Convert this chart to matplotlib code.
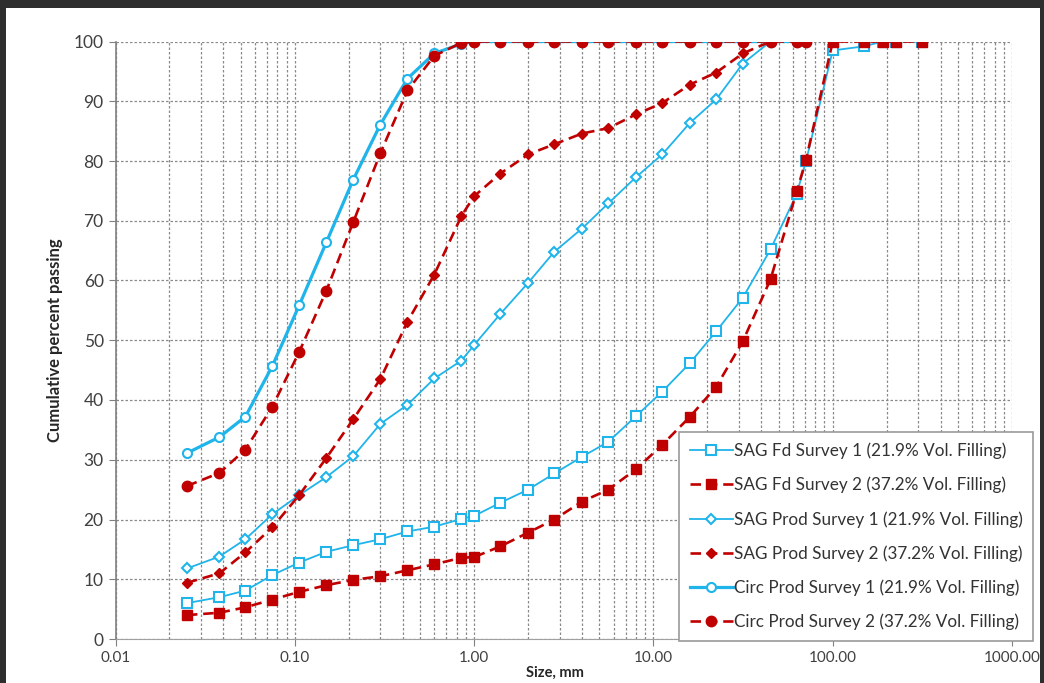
import matplotlib
matplotlib.use("Agg")
import matplotlib.pyplot as plt
from matplotlib.patches import Rectangle
from matplotlib.ticker import FixedLocator, FixedFormatter, LogLocator, NullFormatter

# sieve sizes, mm
sizes_fd = [0.025, 0.038, 0.053, 0.075, 0.106, 0.15, 0.212, 0.3, 0.425, 0.6, 0.85, 1.0,
            1.4, 2.0, 2.8, 4.0, 5.6, 8.0, 11.2, 16, 22.4, 31.5, 45, 63, 71, 100, 150, 190, 225, 315]
sizes_prod = sizes_fd[:23]
sizes_circ = sizes_fd[:25]

sag_fd_1 = [6.0, 7.0, 8.1, 10.7, 12.8, 14.6, 15.7, 16.7, 18.0, 18.8, 20.1, 20.6, 22.8, 25.0, 27.7,
            30.5, 33.0, 37.3, 41.4, 46.2, 51.5, 57.1, 65.2, 74.5, 80.0, 98.5, 99.2, 100, 100, 100]
sag_fd_2 = [4.0, 4.4, 5.3, 6.6, 7.9, 9.0, 9.9, 10.5, 11.5, 12.5, 13.6, 13.7, 15.5, 17.8, 20.0,
            23.0, 25.0, 28.4, 32.5, 37.2, 42.2, 49.8, 60.2, 74.9, 80.2, 100, 100, 100, 100, 100]
sag_prod_1 = [11.8, 13.8, 16.7, 20.9, 24.1, 27.1, 30.6, 36.0, 39.2, 43.6, 46.6, 49.2, 54.4, 59.6,
              64.8, 68.7, 72.9, 77.3, 81.1, 86.4, 90.3, 96.3, 100]
sag_prod_2 = [9.4, 11.0, 14.5, 18.7, 24.1, 30.3, 36.8, 43.5, 53.1, 61.0, 70.8, 74.1, 77.9, 81.1,
              82.8, 84.6, 85.5, 87.8, 89.7, 92.8, 94.8, 98.0, 100]
circ_prod_1 = [31.1, 33.8, 37.2, 45.7, 55.9, 66.4, 76.9, 86.1, 93.8, 98.0, 99.6, 100,
               100, 100, 100, 100, 100, 100, 100, 100, 100, 100, 100, 100, 100]
circ_prod_2 = [25.6, 27.8, 31.7, 38.9, 48.1, 58.3, 69.8, 81.3, 91.8, 97.6, 99.8, 100,
               100, 100, 100, 100, 100, 100, 100, 100, 100, 100, 100, 100, 100]

labels = ["SAG Fd Survey 1 (21.9% Vol. Filling)", "SAG Fd Survey 2 (37.2% Vol. Filling)",
          "SAG Prod Survey 1 (21.9% Vol. Filling)", "SAG Prod Survey 2 (37.2% Vol. Filling)",
          "Circ Prod Survey 1 (21.9% Vol. Filling)", "Circ Prod Survey 2 (37.2% Vol. Filling)"]
x_ticks = [0.01, 0.1, 1, 10, 100, 1000]
x_ticklabels = ["0.01", "0.10", "1.00", "10.00", "100.00", "1000.00"]

cyan = "#1fb4ea"
red = "#c00000"
dash = (0, (4, 2.2))

plt.rcParams['font.family'] = ['Lato', 'DejaVu Sans']

fig = plt.figure(figsize=(10.44, 6.83), dpi=100, facecolor="#2e2e2e")
fig.patches.append(Rectangle((6 / 1044, 0), 1034 / 1044, 675 / 683, transform=fig.transFigure,
                             facecolor="white", edgecolor="none", zorder=-5))
ax = fig.add_axes([115.5 / 1044, 1 - 639 / 683, (1012 - 115.5) / 1044, (639 - 41.5) / 683])
ax.set_zorder(2)
ax.set_facecolor("white")

ax.plot(sizes_fd, sag_fd_1, color=cyan, lw=1.3, marker="s", ms=6.5, mfc="white", mec=cyan, mew=1.5,
        label=labels[0])
ax.plot(sizes_fd, sag_fd_2, color=red, lw=1.9, ls=dash, marker="s", ms=7, mfc=red, mec=red,
        label=labels[1])
ax.plot(sizes_prod, sag_prod_1, color=cyan, lw=1.3, marker="D", ms=5.5, mfc="white", mec=cyan, mew=1.5,
        label=labels[2])
ax.plot(sizes_prod, sag_prod_2, color=red, lw=1.9, ls=dash, marker="D", ms=5, mfc=red, mec=red,
        label=labels[3])
ax.plot(sizes_circ, circ_prod_1, color=cyan, lw=2.3, marker="o", ms=6.5, mfc="white", mec=cyan, mew=1.5,
        label=labels[4])
ax.plot(sizes_circ, circ_prod_2, color=red, lw=1.9, ls=dash, marker="o", ms=7.5, mfc=red, mec=red,
        label=labels[5])

ax.set_xscale("log")
ax.set_xlim(0.01, 1000)
ax.set_ylim(0, 100)
ax.xaxis.set_major_locator(FixedLocator(x_ticks))
ax.xaxis.set_major_formatter(FixedFormatter(x_ticklabels))
ax.xaxis.set_minor_locator(LogLocator(base=10, subs=range(2, 10), numticks=20))
ax.xaxis.set_minor_formatter(NullFormatter())
ax.set_yticks(range(0, 101, 10))

grid_kw = dict(color="#8a8a8a", lw=0.9, ls=(0, (2, 1.6)))
ax.grid(True, which="major", axis="both", **grid_kw)
ax.grid(True, which="minor", axis="x", **grid_kw)
ax.set_axisbelow(True)

for s in ["top", "right"]:
    ax.spines[s].set_visible(False)
ax.spines["left"].set_color("#808080")
ax.spines["bottom"].set_color("#a0a0a0")
ax.spines["left"].set_linewidth(1.2)
ax.tick_params(axis="both", which="major", length=5, color="#808080", labelcolor="#404040")
ax.tick_params(axis="x", which="major", labelsize=11)
ax.tick_params(axis="y", which="major", labelsize=12.5)
ax.tick_params(axis="x", which="minor", length=0)

ax.set_ylabel("Cumulative percent passing", fontsize=12, fontweight="bold", color="#262626",
              labelpad=8)
ax.set_xlabel("Size, mm", fontsize=10.5, fontweight="bold", color="#262626")
ax.xaxis.label.set_va("center")
ax.xaxis.set_label_coords(0.49, -0.056)

leg = ax.legend(loc="upper left", bbox_to_anchor=(679 / 1044, 1 - 432 / 683),
                bbox_transform=fig.transFigure, fontsize=12.3,
                frameon=True, fancybox=False, edgecolor="#9a9a9a", framealpha=1,
                handlelength=2.55, labelspacing=1.035, borderpad=0.62, handletextpad=0.05,
                borderaxespad=0)
leg.get_frame().set_linewidth(1.2)
for t in leg.get_texts():
    t.set_color("#333333")

fig.savefig("out.png", dpi=100, facecolor=fig.get_facecolor())
